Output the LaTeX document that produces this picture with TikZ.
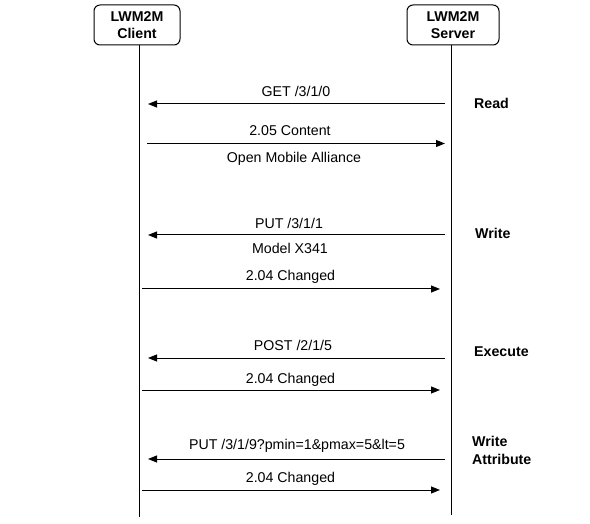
\documentclass[tikz,border=0pt]{standalone}
\usepackage{fontspec}
\setmainfont{Liberation Sans}
\usetikzlibrary{arrows.meta}
\begin{document}
\begin{tikzpicture}[x=1pt,y=-1pt,
  every node/.style={font=\fontsize{14.2}{16}\selectfont, inner sep=0pt},
  actor/.style={draw, line width=1pt, rounded corners=6pt, minimum width=86pt, minimum height=40pt, align=center, font=\fontsize{14.2}{17}\selectfont\bfseries},
  life/.style={line width=1pt},
  msg/.style={line width=1pt, -{Triangle[length=9pt,width=7pt]}},
  lbl/.style={anchor=base},
  op/.style={anchor=base west, font=\fontsize{14.2}{16}\selectfont\bfseries}]
\useasboundingbox (0,0) rectangle (590,524);
% actors
\node[actor] (client) at (137,25) {LWM2M\\Client};
\node[actor, minimum width=92pt] (server) at (453,25) {LWM2M\\Server};
\coordinate (cend) at (139.5,517);
\coordinate (send) at (451,515);
\draw[life] (client.south -| cend) -- (cend);
\draw[life] (server.south -| send) -- (send);
% Read
\coordinate (s1) at (445,104); \coordinate (c1) at (148,104);
\draw[msg] (s1) -- (c1);
\node[lbl] (m1) at (296,97) {GET /3/1/0};
\coordinate (c2) at (147,143.5); \coordinate (s2) at (445,143.5);
\draw[msg] (c2) -- (s2);
\node[lbl] (m2) at (290,135.7) {2.05 Content};
\node[lbl] (m2b) at (294,163) {Open Mobile Alliance};
\node[op] (read) at (474,109) {Read};
% Write
\coordinate (s3) at (445,235); \coordinate (c3) at (148,235);
\draw[msg] (s3) -- (c3);
\node[lbl] (m3) at (289,228.3) {PUT /3/1/1};
\node[lbl] (m3b) at (290,254) {Model X341};
\coordinate (c4) at (142,289); \coordinate (s4) at (440,289);
\draw[msg] (c4) -- (s4);
\node[lbl] (m4) at (290.5,280) {2.04 Changed};
\node[op] (write) at (475,239) {Write};
% Execute
\coordinate (s5) at (445,358); \coordinate (c5) at (148,358);
\draw[msg] (s5) -- (c5);
\node[lbl] (m5) at (293,350) {POST /2/1/5};
\coordinate (c6) at (142,390); \coordinate (s6) at (440,390);
\draw[msg] (c6) -- (s6);
\node[lbl] (m6) at (290.5,383.5) {2.04 Changed};
\node[op] (exec) at (474,356) {Execute};
% Write Attribute
\coordinate (s7) at (445,459); \coordinate (c7) at (148,459);
\draw[msg] (s7) -- (c7);
\node[lbl] (m7) at (297,449.3) {PUT /3/1/9?pmin=1\&pmax=5\&lt=5};
\coordinate (c8) at (142,490); \coordinate (s8) at (440,490);
\draw[msg] (c8) -- (s8);
\node[lbl] (m8) at (290.5,482.7) {2.04 Changed};
\node[op] (wa1) at (472,446.7) {Write};
\node[op] (wa2) at (472,464.3) {Attribute};
\end{tikzpicture}
\end{document}
